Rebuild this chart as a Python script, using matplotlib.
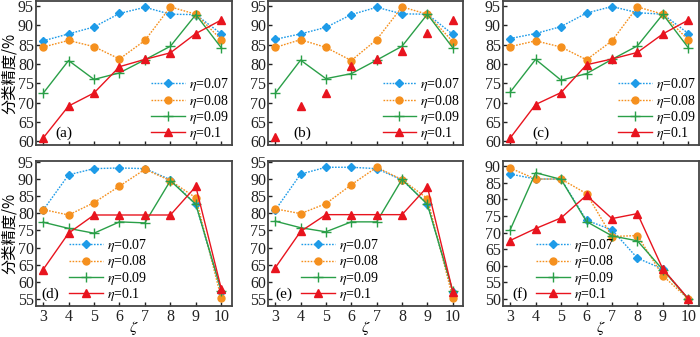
import matplotlib
matplotlib.use('Agg')
import matplotlib.pyplot as plt
from matplotlib.lines import Line2D

plt.rcParams['font.family'] = ['Liberation Serif', 'DejaVu Serif']
plt.rcParams['mathtext.fontset'] = 'stix'

zeta = [3, 4, 5, 6, 7, 8, 9, 10]
etas = ['0.07', '0.08', '0.09', '0.1']

# 各子图的分类精度（顺序：η=0.07, 0.08, 0.09, 0.1）
acc_a = [[86.0, 87.8, 89.6, 93.1, 94.7, 92.9, 92.8, 87.8],
         [84.4, 86.1, 84.5, 81.3, 86.1, 94.8, 92.9, 86.3],
         [72.4, 80.9, 76.0, 77.7, 81.1, 84.6, 92.8, 84.2],
         [60.8, 69.1, 72.5, 79.3, 81.2, 82.9, 87.9, 91.4]]
acc_b = [[86.4, 87.8, 89.5, 92.8, 94.7, 93.0, 92.9, 87.7],
         [84.3, 86.3, 84.3, 80.9, 86.3, 94.8, 92.9, 85.8],
         [72.4, 81.0, 76.2, 77.5, 81.0, 84.6, 92.9, 84.2],
         [61.0, 69.2, 72.5, 79.6, 81.2, 83.4, 88.0, 91.4]]
acc_c = [[86.6, 87.9, 89.7, 93.2, 94.9, 93.3, 92.9, 87.9],
         [84.5, 86.0, 84.4, 81.1, 86.0, 94.8, 92.9, 86.2],
         [72.7, 81.2, 75.8, 77.5, 81.2, 84.7, 92.9, 84.2],
         [60.8, 69.5, 72.6, 79.8, 81.3, 83.0, 87.8, 91.4]]
acc_d = [[80.9, 91.2, 93.0, 93.2, 93.0, 89.8, 82.6, 57.0],
         [81.1, 79.5, 83.1, 87.9, 92.8, 89.5, 84.5, 55.2],
         [77.4, 75.6, 74.2, 77.5, 77.2, 89.5, 82.6, 57.5],
         [63.6, 74.2, 79.5, 79.5, 79.5, 79.5, 87.8, 58.0]]
acc_e = [[80.9, 91.4, 93.4, 93.4, 93.0, 89.7, 82.8, 57.1],
         [81.3, 79.9, 82.8, 88.3, 93.4, 89.8, 84.3, 55.4],
         [77.7, 75.8, 74.6, 77.5, 77.5, 89.9, 82.6, 57.4],
         [64.1, 74.7, 79.6, 79.6, 79.6, 79.6, 87.7, 57.2]]
acc_f = [[87.6, 86.1, 86.1, 73.7, 70.8, 62.3, 59.0, 50.0],
         [89.4, 86.1, 86.1, 81.7, 68.8, 69.1, 57.0, 50.0],
         [70.8, 88.0, 86.0, 73.3, 69.0, 67.5, 58.8, 50.0],
         [67.6, 71.2, 74.4, 81.2, 74.2, 75.7, 59.0, 50.1]]

colors = ['#1E9BE8', '#F5901E', '#2A9F48', '#E8141E']
styles = [
    dict(ls=(0, (1.2, 1.0)), marker='D', ms=4.5),
    dict(ls=(0, (1.2, 1.0)), marker='o', ms=5),
    dict(ls='-', marker='+', ms=7, mew=1.0),
    dict(ls='-', marker='^', ms=6),
]

fig = plt.figure(figsize=(7, 3.37), dpi=100)
lefts = [0.0514, 0.383, 0.7186]
widths = [0.28, 0.279, 0.28]

panels = [
    ('(a)', acc_a, 0, 0, (59, 96.3), [60, 65, 70, 75, 80, 85, 90, 95]),
    ('(b)', acc_b, 0, 1, (59, 96.3), [60, 65, 70, 75, 80, 85, 90, 95]),
    ('(c)', acc_c, 0, 2, (59, 96.3), [60, 65, 70, 75, 80, 85, 90, 95]),
    ('(d)', acc_d, 1, 0, (53, 95.2), [55, 60, 65, 70, 75, 80, 85, 90, 95]),
    ('(e)', acc_e, 1, 1, (53, 95.2), [55, 60, 65, 70, 75, 80, 85, 90, 95]),
    ('(f)', acc_f, 1, 2, (47.9, 91.5), [50, 55, 60, 65, 70, 75, 80, 85, 90]),
]
tag_x = {'(a)': 0.10, '(b)': 0.13, '(c)': 0.15, '(d)': 0.03, '(e)': 0.035, '(f)': 0.05}

for tag, acc, row, col, ylim, yticks in panels:
    bottom = 0.5697 if row == 0 else 0.092
    height = 0.427 if row == 0 else 0.430
    ax = fig.add_axes([lefts[col], bottom, widths[col], height])
    for i in range(4):
        st = dict(styles[i])
        if tag == '(b)' and i == 3:
            st['ls'] = 'none'
        ax.plot(zeta, acc[i], color=colors[i], lw=1.0, **st)
    ax.set_xlim(2.72, 10.42)
    ax.set_ylim(*ylim)
    ax.set_xticks(zeta)
    ax.set_yticks(yticks)
    ax.tick_params(direction='in', length=3, width=1.0, labelsize=11.5, pad=2, colors='#222222')
    ax.tick_params(axis='y', pad=1.5)
    for s in ax.spines.values():
        s.set_linewidth(1.3)
        s.set_color('#444444')
    if row == 0:
        ax.set_xticklabels([])
    else:
        ax.set_xlabel(r'$\zeta$', fontsize=11.5, labelpad=-4)
    if col == 0:
        ax.set_ylabel('分类精度/%', family=['Noto Sans CJK SC', 'DejaVu Sans'],
                      fontsize=11, labelpad=0)
    ax.text(tag_x[tag], 0.035, tag, transform=ax.transAxes, fontsize=11, va='bottom')

    handles = []
    for i in range(4):
        st = dict(styles[i])
        handles.append(Line2D([], [], color=colors[i], lw=1.0, **st))
    labels = [r'$\eta$=' + e for e in etas]
    if row == 0:
        ax.legend(handles, labels, loc='lower right',
                  bbox_to_anchor=(0.985, 0.02), frameon=False, fontsize=10,
                  handlelength=2.4, handletextpad=0.3, labelspacing=-0.05,
                  borderaxespad=0, borderpad=0)
    else:
        ax.legend(handles, labels, loc='lower left',
                  bbox_to_anchor=(0.17, 0.02), frameon=False, fontsize=10,
                  handlelength=2.4, handletextpad=0.3, labelspacing=-0.05,
                  borderaxespad=0, borderpad=0)

fig.savefig('out.png', dpi=100)
